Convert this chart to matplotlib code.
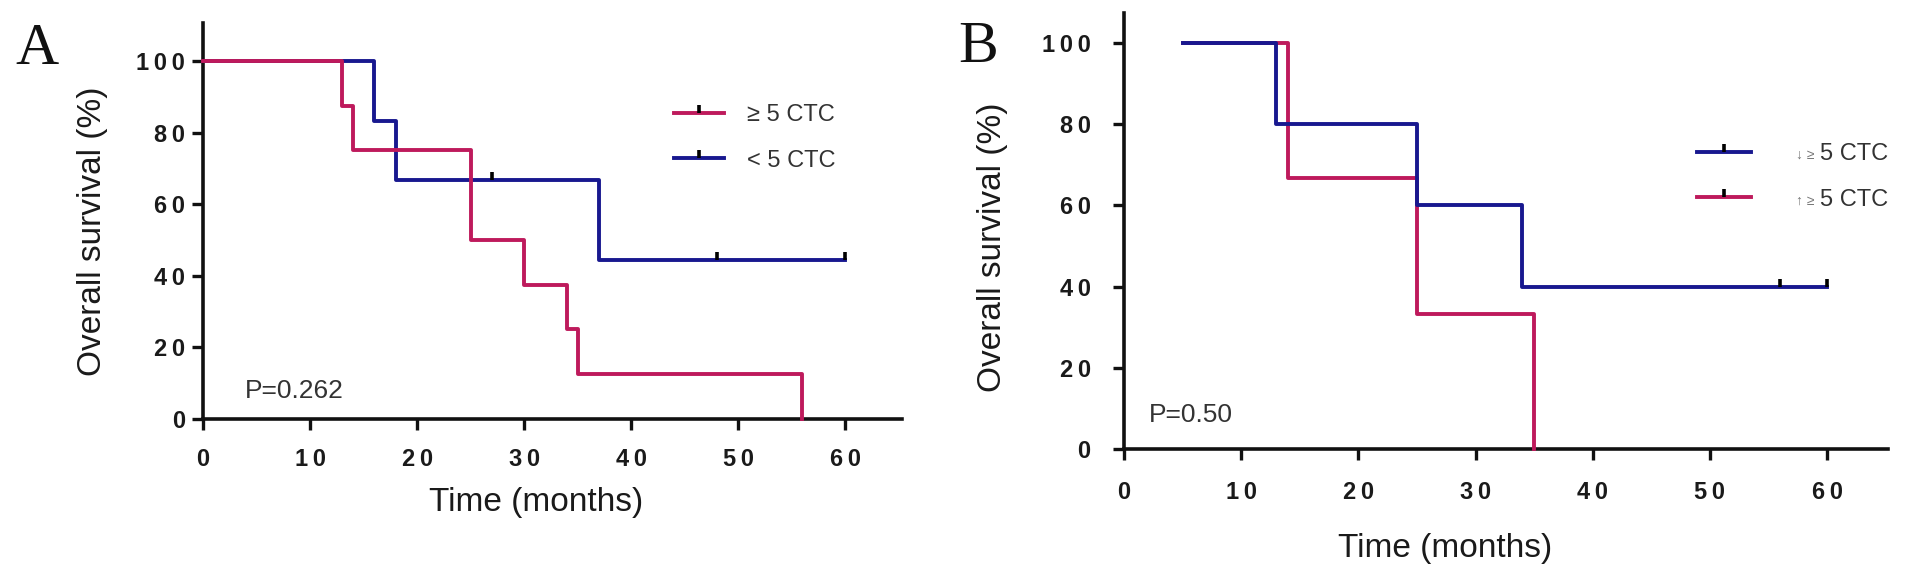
import matplotlib
matplotlib.use('Agg')
import matplotlib.pyplot as plt
from matplotlib.lines import Line2D
from matplotlib.ticker import FixedLocator, FuncFormatter

# ---- data ----
# Panel A
a_hi_t = [0, 13, 14, 25, 30, 34, 35, 56]
a_hi_s = [100, 87.5, 75, 50, 37.5, 25, 12.5, 0]
a_lo_t = [0, 16, 18, 37, 60]
a_lo_s = [100, 83.3, 66.7, 44.4, 44.4]
a_lo_cens_t = [27, 48, 60]
a_lo_cens_s = [66.7, 44.4, 44.4]
a_labels = ['\u2265 5 CTC', '< 5 CTC']
a_pval = 'P=0.262'

# Panel B
b_down_t = [5, 13, 25, 34, 60]
b_down_s = [100, 80, 60, 40, 40]
b_down_cens_t = [56, 60]
b_down_cens_s = [40, 40]
b_up_t = [5, 14, 25, 35]
b_up_s = [100, 66.7, 33.3, 0]
b_prefix = ['\u2193 \u2265', '\u2191 \u2265']
b_labels = ['5 CTC', '5 CTC']
b_pval = 'P=0.50'

xticks = [0, 10, 20, 30, 40, 50, 60]
yticks = [0, 20, 40, 60, 80, 100]

RED = '#BE1A5C'
BLUE = '#18188F'
SANS = ['Liberation Sans', 'DejaVu Sans']
LW = 2.8

W, H = 1913, 581
fig = plt.figure(figsize=(W / 100, H / 100), dpi=100)


def px_axes(left, right, top, bottom):
    return fig.add_axes([left / W, 1 - bottom / H, (right - left) / W, (bottom - top) / H])


def spaced(v, _):
    return '\u2009'.join(str(int(v)))


def style(ax, xmax, ymax, ypad, xpad):
    ax.set_xlim(0, xmax)
    ax.set_ylim(0, ymax)
    for s in ['top', 'right']:
        ax.spines[s].set_visible(False)
    for s in ['left', 'bottom']:
        ax.spines[s].set_linewidth(2.6)
        ax.spines[s].set_color('#111111')
    ax.xaxis.set_major_locator(FixedLocator(xticks))
    ax.yaxis.set_major_locator(FixedLocator(yticks))
    ax.xaxis.set_major_formatter(FuncFormatter(spaced))
    ax.yaxis.set_major_formatter(FuncFormatter(spaced))
    ax.tick_params(direction='out', length=8, width=2.4, color='#111111')
    ax.tick_params(axis='y', pad=ypad)
    ax.tick_params(axis='x', pad=xpad)
    for lab in ax.get_xticklabels() + ax.get_yticklabels():
        lab.set_fontfamily(SANS)
        lab.set_fontweight('bold')
        lab.set_fontsize(17)
        lab.set_color('#1a1a1a')


def censor(ax, t, s):
    ax.plot(t, s, ls='none', marker=2, ms=6, mec='black', mew=2.6,
            clip_on=False, zorder=5)


# ---------------- Panel A ----------------
axA = px_axes(203, 902, 23, 419)
axA.step(a_lo_t, a_lo_s, where='post', color=BLUE, lw=LW, clip_on=False, zorder=3)
axA.step(a_hi_t, a_hi_s, where='post', color=RED, lw=LW, clip_on=False, zorder=4)
censor(axA, a_lo_cens_t, a_lo_cens_s)
style(axA, 65.3, 110.6, ypad=5, xpad=13)

axA.set_xlabel('Time (months)', fontsize=24, family=SANS, color='#1a1a1a', va='center')
axA.xaxis.set_label_coords((536 - 203) / 699, (419 - 503) / 396)
axA.set_ylabel('Overall survival (%)', fontsize=24, family=SANS, color='#1a1a1a', va='center')
axA.yaxis.set_label_coords((92 - 203) / 699, (419 - 231) / 396)
axA.text(3.9, 7.8, a_pval, fontsize=19, family=SANS, color='#333333', va='center', ha='left')

hA = [Line2D([], [], color=RED, lw=LW, marker=2, ms=6, mec='black', mew=2.6),
      Line2D([], [], color=BLUE, lw=LW, marker=2, ms=6, mec='black', mew=2.6)]
legA = axA.legend(hA, a_labels, loc='upper left', bbox_to_anchor=((674 - 203) / 699, (419 - 104) / 396),
                  frameon=False, borderpad=0, borderaxespad=0, handlelength=2.1,
                  handletextpad=1.0, labelspacing=1.0, numpoints=1,
                  prop={'family': SANS, 'size': 17})
for t in legA.get_texts():
    t.set_color('#333333')

fig.text(15 / W, 1 - 64 / H, 'A', family=['Liberation Serif', 'DejaVu Serif'],
         fontsize=43, va='baseline', ha='left', color='#111111')

# ---------------- Panel B ----------------
axB = px_axes(1124, 1888, 13, 449)
axB.step(b_up_t, b_up_s, where='post', color=RED, lw=LW, clip_on=False, zorder=3)
axB.step(b_down_t, b_down_s, where='post', color=BLUE, lw=LW, clip_on=False, zorder=4)
censor(axB, b_down_cens_t, b_down_cens_s)
style(axB, 65.2, 107.4, ypad=16, xpad=15)

axB.set_xlabel('Time (months)', fontsize=24, family=SANS, color='#1a1a1a', va='center')
axB.xaxis.set_label_coords((1445 - 1124) / 764, (449 - 548) / 436)
axB.set_ylabel('Overall survival (%)', fontsize=24, family=SANS, color='#1a1a1a', va='center')
axB.yaxis.set_label_coords((993 - 1124) / 764, (449 - 247) / 436)
axB.text(2.1, 8.4, b_pval, fontsize=19, family=SANS, color='#333333', va='center', ha='left')

hB = [Line2D([], [], color=BLUE, lw=LW, marker=2, ms=6, mec='black', mew=2.6),
      Line2D([], [], color=RED, lw=LW, marker=2, ms=6, mec='black', mew=2.6)]
legB = axB.legend(hB, b_labels, loc='upper left', bbox_to_anchor=((1697 - 1124) / 764, (449 - 143) / 436),
                  frameon=False, borderpad=0, borderaxespad=0, handlelength=2.3,
                  handletextpad=2.9, labelspacing=1.0, numpoints=1,
                  prop={'family': SANS, 'size': 17})
for t, pre in zip(legB.get_texts(), b_prefix):
    t.set_color('#333333')
    axB.annotate(pre, xy=(0, 0.45), xycoords=t, xytext=(-4, 0), textcoords='offset points',
                 ha='right', va='center', fontsize=10, family=SANS, color='#777777',
                 zorder=10, annotation_clip=False)

fig.text(958 / W, 1 - 62 / H, 'B', family=['Liberation Serif', 'DejaVu Serif'],
         fontsize=43, va='baseline', ha='left', color='#111111')

fig.savefig('out.png', dpi=100, facecolor='white')
